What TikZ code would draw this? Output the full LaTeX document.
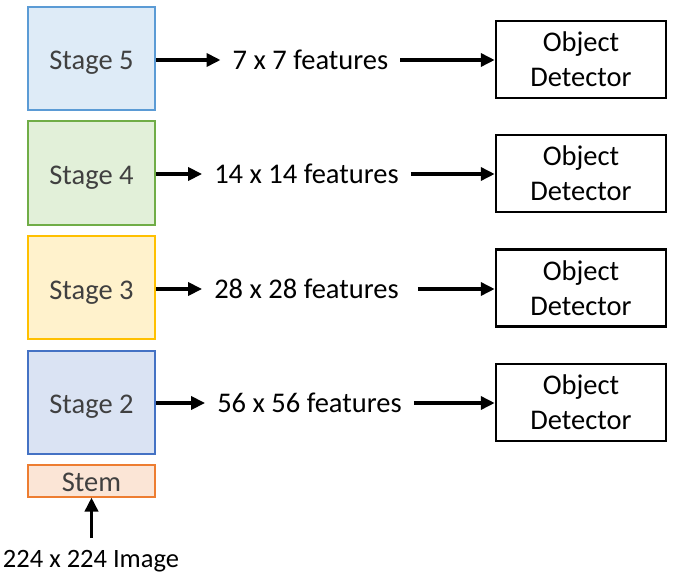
\documentclass[tikz,border=0pt]{standalone}
\usepackage{fontspec}
\setmainfont{Carlito}
\usetikzlibrary{arrows.meta}
\definecolor{b5fill}{HTML}{DEEBF7}\definecolor{b5draw}{HTML}{5B9BD5}
\definecolor{g4fill}{HTML}{E2F0D9}\definecolor{g4draw}{HTML}{70AD47}
\definecolor{y3fill}{HTML}{FFF2CC}\definecolor{y3draw}{HTML}{FFC000}
\definecolor{b2fill}{HTML}{DAE3F3}\definecolor{b2draw}{HTML}{4472C4}
\definecolor{stfill}{HTML}{FBE5D6}\definecolor{stdraw}{HTML}{ED7D31}
\definecolor{stagetext}{HTML}{404040}
\begin{document}
\begin{tikzpicture}[x=1pt,y=-1pt,
  every node/.style={font=\fontsize{28.5}{35}\selectfont},
  stagebox/.style={draw, line width=2pt, minimum width=127pt, minimum height=103pt, inner sep=0pt, text=stagetext, text height=26pt, text depth=3pt},
  detbox/.style={draw=black, line width=2.5pt, minimum width=170pt, minimum height=77pt, inner sep=0pt, align=center},
  feat/.style={inner xsep=12pt, inner ysep=0pt},
  arr/.style={line width=3.5pt, -{Triangle[length=14pt,width=13pt]}}]
\useasboundingbox (0,0) rectangle (674,580);
\node[stagebox, fill=b5fill, draw=b5draw] (s5) at (91.5,58.5) {Stage 5};
\node[stagebox, fill=g4fill, draw=g4draw] (s4) at (91.5,173) {Stage 4};
\node[stagebox, fill=y3fill, draw=y3draw] (s3) at (91.5,287.5) {Stage 3};
\node[stagebox, fill=b2fill, draw=b2draw] (s2) at (91.5,402) {Stage 2};
\node[draw=stdraw, fill=stfill, line width=2pt, minimum width=127pt, minimum height=32pt, inner sep=0pt, text=stagetext, text height=21pt, text depth=0pt] (stem) at (91.5,480.5) {Stem};
\node[font=\fontsize{26.5}{32}\selectfont] (img) at (91,561) {224 x 224 Image};
\coordinate (imgtop) at (91.5,538);
\draw[arr] (imgtop) -- (stem.south);

\node[feat] (f5) at (310.5,60) {7 x 7 features};
\node[feat] (f4) at (306.5,174) {14 x 14 features};
\node[feat] (f3) at (306.5,289) {28 x 28 features};
\node[feat] (f2) at (309.5,403) {56 x 56 features};

\node[detbox] (d5) at (581,59.5) {Object\\Detector};
\node[detbox] (d4) at (581,173.5) {Object\\Detector};
\node[detbox] (d3) at (581,288) {Object\\Detector};
\node[detbox] (d2) at (581,402.5) {Object\\Detector};

\draw[arr] (s5.east |- f5) -- (f5.west);
\draw[arr] (s4.east |- f4) -- (f4.west);
\draw[arr] (s3.east |- f3) -- (f3.west);
\draw[arr] (s2.east |- f2) -- (f2.west);
\draw[arr] (f5.east) -- (d5.west |- f5);
\draw[arr] (f4.east) -- (d4.west |- f4);
\draw[arr, shorten <=7pt] (f3.east) -- (d3.west |- f3);
\draw[arr] (f2.east) -- (d2.west |- f2);
\end{tikzpicture}
\end{document}
